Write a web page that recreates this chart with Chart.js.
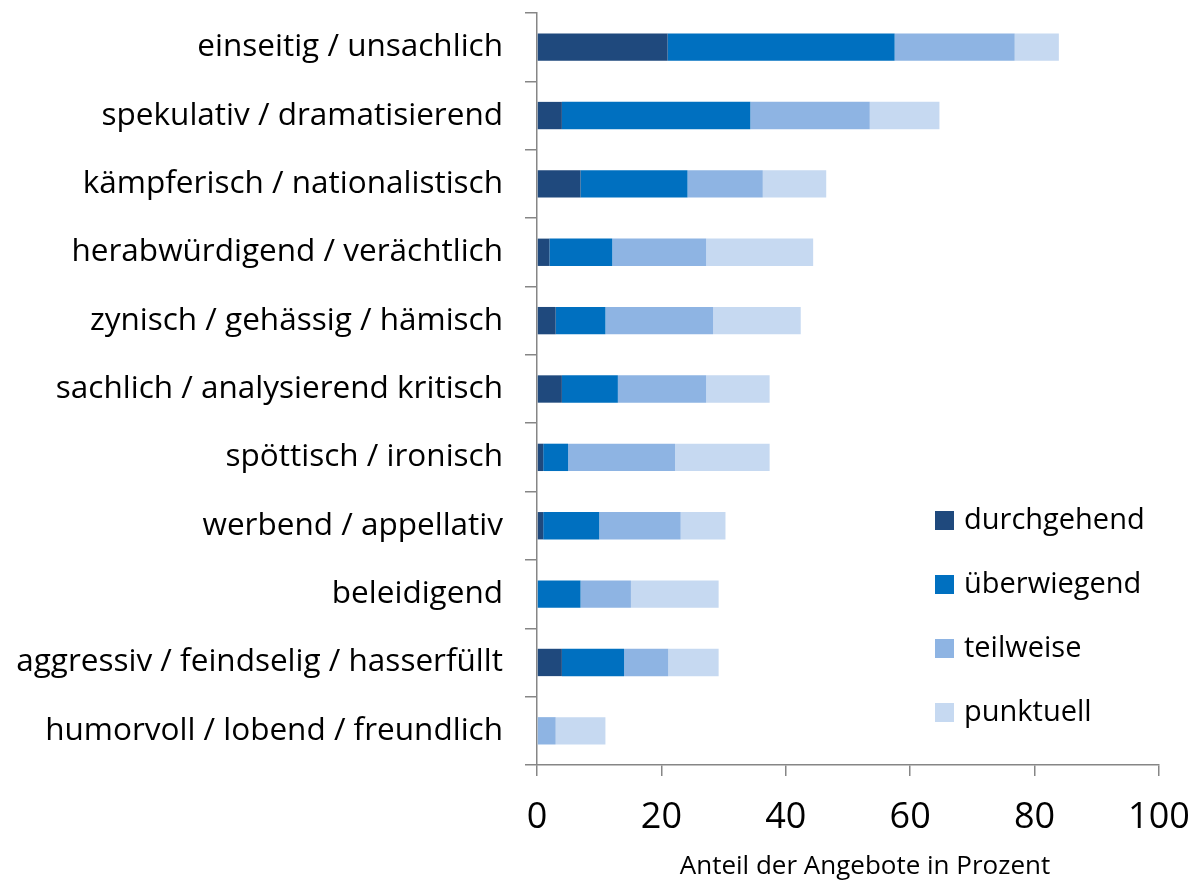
<!DOCTYPE html>
<html>
<head>
<meta charset="utf-8">
<script src="https://cdn.jsdelivr.net/npm/chart.js@4"></script>
<style>
    html, body { margin: 0; padding: 0; background: #fff; }
    .chart-container { width: 1191px; height: 880px; }
</style>
</head>
<body>
<div class="chart-container"><canvas id="toneChart"></canvas></div>
<script>
// Categories (top to bottom)
const categories = [
    'einseitig / unsachlich',
    'spekulativ / dramatisierend',
    'kämpferisch / nationalistisch',
    'herabwürdigend / verächtlich',
    'zynisch / gehässig / hämisch',
    'sachlich / analysierend kritisch',
    'spöttisch / ironisch',
    'werbend / appellativ',
    'beleidigend',
    'aggressiv / feindselig / hasserfüllt',
    'humorvoll / lobend / freundlich'
];

// Shares in percent
const durchgehend = [21, 4, 7, 2, 3, 4, 1, 1, 0, 4, 0];
const ueberwiegend = [36.5, 30.3, 17.2, 10.1, 8, 9, 4, 9, 7, 10, 0];
const teilweise = [19.3, 19.2, 12.1, 15.1, 17.3, 14.2, 17.2, 13.1, 8.1, 7.1, 3];
const punktuell = [7.1, 11.2, 10.2, 17.2, 14.1, 10.2, 15.2, 7.2, 14.1, 8.1, 8];

const seriesLabels = ['durchgehend', 'überwiegend', 'teilweise', 'punktuell'];
const xTicks = [0, 20, 40, 60, 80, 100];
const axisTitle = 'Anteil der Angebote in Prozent';

const colors = ['#1f497d', '#0070c0', '#8eb4e3', '#c6d9f1'];
const FONT = "'Open Sans', sans-serif";

// Legend drawn inside the plot area, lower right
const sideLegend = {
    id: 'sideLegend',
    afterDraw(chart) {
        const ctx = chart.ctx;
        const area = chart.chartArea;
        const x = area.left + 398;
        let y = area.top + 508;
        ctx.save();
        ctx.font = '29px ' + FONT;
        ctx.textBaseline = 'middle';
        chart.data.datasets.forEach(ds => {
            ctx.fillStyle = ds.backgroundColor;
            ctx.fillRect(x, y - 10, 19, 19);
            ctx.fillStyle = '#000';
            ctx.fillText(ds.label, x + 29, y);
            y += 64;
        });
        // axis title, slightly right of centre like the original
        ctx.font = '26px ' + FONT;
        ctx.textAlign = 'center';
        ctx.textBaseline = 'alphabetic';
        ctx.fillText(axisTitle, (area.left + area.right) / 2 + 17, area.bottom + 109);
        ctx.restore();
    }
};

const ctx = document.getElementById('toneChart').getContext('2d');
const datasets = [durchgehend, ueberwiegend, teilweise, punktuell].map((vals, i) => ({
    label: seriesLabels[i],
    data: vals,
    backgroundColor: colors[i],
    borderWidth: 0,
    barPercentage: 0.4,
    categoryPercentage: 1
}));

new Chart(ctx, {
    type: 'bar',
    data: { labels: categories, datasets: datasets },
    options: {
        indexAxis: 'y',
        responsive: true,
        maintainAspectRatio: false,
        animation: false,
        layout: { padding: { top: 13, right: 32, left: 0, bottom: 0 } },
        plugins: {
            legend: { display: false },
            tooltip: { enabled: false }
        },
        scales: {
            x: {
                stacked: true,
                min: 0,
                max: 100,
                afterBuildTicks(scale) {
                    scale.ticks = xTicks.map(v => ({ value: v }));
                },
                afterFit(scale) {
                    scale.height = 115;
                    scale.paddingLeft = 0;
                    scale.paddingRight = 0;
                },
                border: { color: '#868686', width: 1.5 },
                grid: { drawOnChartArea: false, tickLength: 11, color: '#868686', lineWidth: 1.5 },
                ticks: {
                    color: '#000',
                    padding: 20,
                    maxRotation: 0,
                    font: { family: FONT, size: 36 }
                }
            },
            y: {
                stacked: true,
                afterFit(scale) {
                    scale.width = 537;
                    scale.paddingTop = 0;
                    scale.paddingBottom = 0;
                },
                border: { color: '#868686', width: 1.5 },
                grid: { drawOnChartArea: false, tickLength: 12, color: '#868686', lineWidth: 1.5 },
                ticks: {
                    color: '#000',
                    padding: 22,
                    font: { family: FONT, size: 31.5 }
                }
            }
        }
    },
    plugins: [sideLegend]
});
</script>
</body>
</html>
